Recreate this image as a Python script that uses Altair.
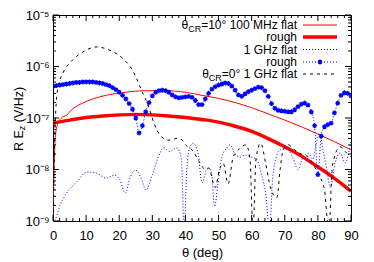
import altair as alt
import pandas as pd

FONT = "Liberation Sans"
W, H = 298, 206

# ---- data (theta in deg, log10 of R*Ez in V/Hz) ----
# thetaCR=10 deg, 100 MHz, flat
t_f100 = [0, 0.1, 0.3, 0.5, 0.8, 1.5, 2.5, 4, 6, 9, 12, 16, 22, 28, 34, 40, 45, 50, 55, 60, 65, 70, 75, 80, 85, 90]
e_f100 = [-9.0, -8.6, -8.0, -7.6, -7.3, -7.1, -7.0, -6.95, -6.82, -6.71, -6.63, -6.56, -6.5, -6.47, -6.47, -6.5,
          -6.56, -6.62, -6.7, -6.8, -6.92, -7.04, -7.17, -7.31, -7.46, -7.62]

# thetaCR=10 deg, 100 MHz, rough
t_r100 = [0, 5, 10, 15, 20, 25, 30, 35, 40, 45, 50, 55, 60, 65, 70, 75, 80, 85, 90]
e_r100 = [-7.1, -7.04, -6.99, -6.96, -6.94, -6.93, -6.94, -6.96, -6.99, -7.03, -7.08, -7.16, -7.26, -7.4,
          -7.56, -7.74, -7.95, -8.17, -8.42]

# thetaCR=10 deg, 1 GHz, flat
t_f1g = [0, 0.6, 2.1, 4.1, 7.2, 10.2, 13.2, 16, 18.6, 20.2, 21.8, 23.3, 24.9, 26.5, 28.1, 30, 32.3, 33.3, 35.3,
         37.4, 38.8, 39.6, 40.4, 41.4, 42.3, 43.8, 45, 46.4, 47.2, 48, 48.8, 49.8, 51, 52.5, 53.5, 54.8, 56.5,
         58, 59.5, 61.5, 63, 64.3, 65.4, 66.3, 67, 68.6, 70.7, 72.5, 74, 75.2, 77, 78.5, 79.5, 80.5, 81.5,
         82.7, 83.7, 85.2, 86.7, 88.2, 90]
e_f1g = [-9.1, -9.0, -8.7, -8.46, -8.24, -8.05, -8.07, -8.17, -8.11, -8.2, -8.46, -8.15, -8.01, -8.15, -8.4,
         -8.1, -7.68, -7.58, -7.65, -7.58, -7.8, -9.2, -8.0, -7.56, -7.49, -7.68, -8.26, -8.0, -7.98, -8.14,
         -8.72, -8.3, -7.76, -7.58, -7.52, -7.68, -7.76, -7.72, -7.75, -7.8, -8.1, -8.5, -9.2, -8.2, -7.87,
         -7.62, -7.6, -7.78, -8.0, -7.81, -7.68, -7.8, -7.5, -7.3, -7.6, -8.0, -8.35, -7.87, -7.68, -7.87, -7.45]

# thetaCR=10 deg, 1 GHz, rough (one value per degree)
t_r1g = list(range(0, 91))
e_r1g = [-6.38, -6.37, -6.36, -6.35, -6.34, -6.33, -6.32, -6.31, -6.31, -6.30, -6.30, -6.30, -6.30, -6.31,
         -6.32, -6.33, -6.35, -6.37, -6.41, -6.45, -6.50, -6.56, -6.63, -6.72, -6.83, -7.0, -7.29, -7.15,
         -6.88, -6.70, -6.57, -6.50, -6.47, -6.46, -6.47, -6.50, -6.55, -6.59, -6.61, -6.60, -6.59, -6.58,
         -6.60, -6.66, -6.74, -6.74, -6.63, -6.52, -6.44, -6.39, -6.36, -6.34, -6.32, -6.33, -6.38, -6.46,
         -6.55, -6.58, -6.53, -6.49, -6.46, -6.43, -6.40, -6.41, -6.47, -6.58, -6.72, -6.81, -6.85, -6.86,
         -6.87, -6.88, -6.88, -6.84, -6.78, -6.73, -6.71, -6.75, -6.88, -7.15, -8.1, -7.35, -7.17, -7.13,
         -7.10, -6.90, -6.71, -6.56, -6.51, -6.52, -6.57]

# thetaCR=0 deg, 1 GHz, flat
t_c0 = [0, 0.3, 0.6, 1.5, 3, 6, 9, 13, 17, 21, 24, 27, 29, 30.5, 32.5, 35, 38, 40.5, 42, 44.4, 46, 47, 49,
        50.3, 51.4, 52.9, 54.4, 56, 58.3, 59.5, 60.4, 61.3, 62.7, 64.3, 65.6, 67.6, 68.6, 69.5, 71, 73, 75, 77,
        79, 80.6, 82, 83.3, 84.3, 85, 86.7, 88.7, 90]
e_c0 = [-9.5, -8.0, -7.2, -6.4, -6.13, -5.87, -5.72, -5.62, -5.68, -5.84, -6.07, -6.5, -6.8, -7.1, -7.35,
        -7.43, -7.39, -7.55, -7.62, -7.87, -8.0, -7.97, -8.35, -8.0, -7.88, -8.28, -7.76, -7.62, -7.52, -7.8,
        -9.2, -7.8, -7.49, -7.9, -8.33, -8.55, -8.0, -7.62, -7.52, -7.62, -7.7, -7.75, -7.95, -8.14, -8.4,
        -9.2, -8.0, -7.76, -7.56, -7.68, -7.75]

x_major = list(range(0, 91, 10))
x_minor = [v for v in range(0, 91, 2) if v % 10 != 0]
y_major = [1e-9, 1e-8, 1e-7, 1e-6, 1e-5]
y_minor = [k * 10.0 ** n for n in range(-9, -5) for k in range(2, 10)]


def frame(t, e):
    return pd.DataFrame({"t": t, "v": [10.0 ** x for x in e]})


xscale = alt.Scale(domain=[0, 90], nice=False, zero=False)
yscale = alt.Scale(type="log", domain=[1e-9, 1e-5], nice=False)

xaxis = alt.Axis(values=x_major, ticks=False, domain=False, grid=False, labelFlush=False, labelOverlap=False,
                 labelFont=FONT, labelFontSize=13, labelColor="black", labelPadding=8,
                 title="θ (deg)", titleFont=FONT, titleFontSize=13, titleFontWeight="normal",
                 titleColor="black", titlePadding=4)
yaxis = alt.Axis(values=y_major, ticks=False, domain=False, grid=False, labelFlush=False, labelOverlap=False,
                 labelExpr="'10' + ['⁻⁹','⁻⁸','⁻⁷','⁻⁶','⁻⁵'][round(log(datum.value)/LN10) + 9]",
                 labelFont=FONT, labelFontSize=13, labelColor="black", labelPadding=4, title=None)

X = alt.X("t:Q", scale=xscale, axis=xaxis)
Y = alt.Y("v:Q", scale=yscale, axis=yaxis)


def line(t, e, color, width, dash=None):
    kw = dict(color=color, strokeWidth=width, interpolate="monotone", clip=True)
    if dash:
        kw["strokeDash"] = dash
    return alt.Chart(frame(t, e)).mark_line(**kw).encode(x=X, y=Y)


STAR = "M-1,0L1,0M0,-1L0,1M-0.7,-0.7L0.7,0.7M-0.7,0.7L0.7,-0.7"

layers = []
layers.append(line(t_f100, e_f100, "#ff0000", 1))
layers.append(line(t_r100, e_r100, "#ff0000", 3.4))
layers.append(line(t_f1g, e_f1g, "#0000ff", 1, dash=[1, 2]))
layers.append(line(t_c0, e_c0, "#000000", 1, dash=[3, 4]))
layers.append(line(t_r1g, e_r1g, "#0000ff", 1, dash=[1, 2]))
layers.append(alt.Chart(frame(t_r1g, e_r1g)).mark_point(shape=STAR, filled=False, color="#0000ff",
                                                        strokeWidth=1.2, size=24, clip=True, opacity=1).encode(
    x=X, y=Y))


# ---- inward ticks on all four sides ----
def xticks(vals, length):
    df = pd.DataFrame({"t": vals})
    out = []
    for y0, y1 in [(H, H - length), (0, length)]:
        out.append(alt.Chart(df).mark_rule(color="black", strokeWidth=1).encode(
            x=X, y=alt.value(y0), y2=alt.value(y1)))
    return out


def yticks(vals, length):
    df = pd.DataFrame({"v": vals})
    out = []
    for x0, x1 in [(0, length), (W, W - length)]:
        out.append(alt.Chart(df).mark_rule(color="black", strokeWidth=1).encode(
            y=Y, x=alt.value(x0), x2=alt.value(x1)))
    return out


layers += xticks(x_major, 6) + xticks(x_minor, 3) + yticks(y_major, 6) + yticks(y_minor, 3)

# ---- legend and y-axis title built from text pieces ----
one = alt.Data(values=[{"k": 0}])
LFS = 12


def txt(x, y, s, size=LFS, align="right", angle=0):
    return alt.Chart(one).mark_text(text=s, font=FONT, fontSize=size, align=align, baseline="middle",
                                    color="black", angle=angle).encode(x=alt.value(x), y=alt.value(y))


def sample(y, color, width, dash=None):
    kw = dict(color=color, strokeWidth=width)
    if dash:
        kw["strokeDash"] = dash
    return alt.Chart(one).mark_rule(**kw).encode(x=alt.value(250), x2=alt.value(284), y=alt.value(y))


LX = 244
rows = [10, 22, 34.5, 47, 59]
rest1 = "=10° 100 MHz flat"
rest5 = "=0° 1 GHz flat"
w_rest1, w_rest5, w_cr = 7.987 * LFS, 6.264 * LFS, 1.444 * 9

layers += [
    txt(LX, rows[0], rest1),
    txt(LX - w_rest1, rows[0] + 3.5, "CR", size=9),
    txt(LX - w_rest1 - w_cr, rows[0], "θ"),
    sample(rows[0], "#ff0000", 1),
    txt(LX, rows[1], "rough"),
    sample(rows[1], "#ff0000", 3.4),
    alt.Chart(one).mark_point(shape="cross", filled=True, color="#ff0000", size=18).encode(
        x=alt.value(267), y=alt.value(rows[1])),
    txt(LX, rows[2], "1 GHz flat"),
    sample(rows[2], "#0000ff", 1, [1, 2]),
    txt(LX, rows[3], "rough"),
    sample(rows[3], "#0000ff", 1, [1, 2]),
    alt.Chart(one).mark_point(shape=STAR, filled=False, color="#0000ff", strokeWidth=1.2, size=24,
                              opacity=1).encode(x=alt.value(267), y=alt.value(rows[3])),
    txt(LX, rows[4], rest5),
    txt(LX - w_rest5, rows[4] + 3.5, "CR", size=9),
    txt(LX - w_rest5 - w_cr, rows[4], "θ"),
    sample(rows[4], "#000000", 1, [3, 4]),
]

# rotated y title: "R E_z (V/Hz)"
YX, YB = -34, 136
w_re, w_z, w_sp = 1.667 * 12.5, 0.5 * 9, 0.278 * 12.5
layers += [
    txt(YX, YB, "R E", size=12.5, align="left", angle=270),
    txt(YX + 3, YB - w_re, "z", size=9, align="left", angle=270),
    txt(YX, YB - w_re - w_z - w_sp, "(V/Hz)", size=12.5, align="left", angle=270),
]

chart = alt.layer(*layers).properties(
    width=W, height=H,
    autosize=alt.AutoSizeParams(type="none"),
    padding={"left": 45, "top": 7, "right": 15, "bottom": 40},
).configure_view(stroke="black", strokeWidth=1)

chart.save("out.html", embed_options={"renderer": "svg", "actions": False})
